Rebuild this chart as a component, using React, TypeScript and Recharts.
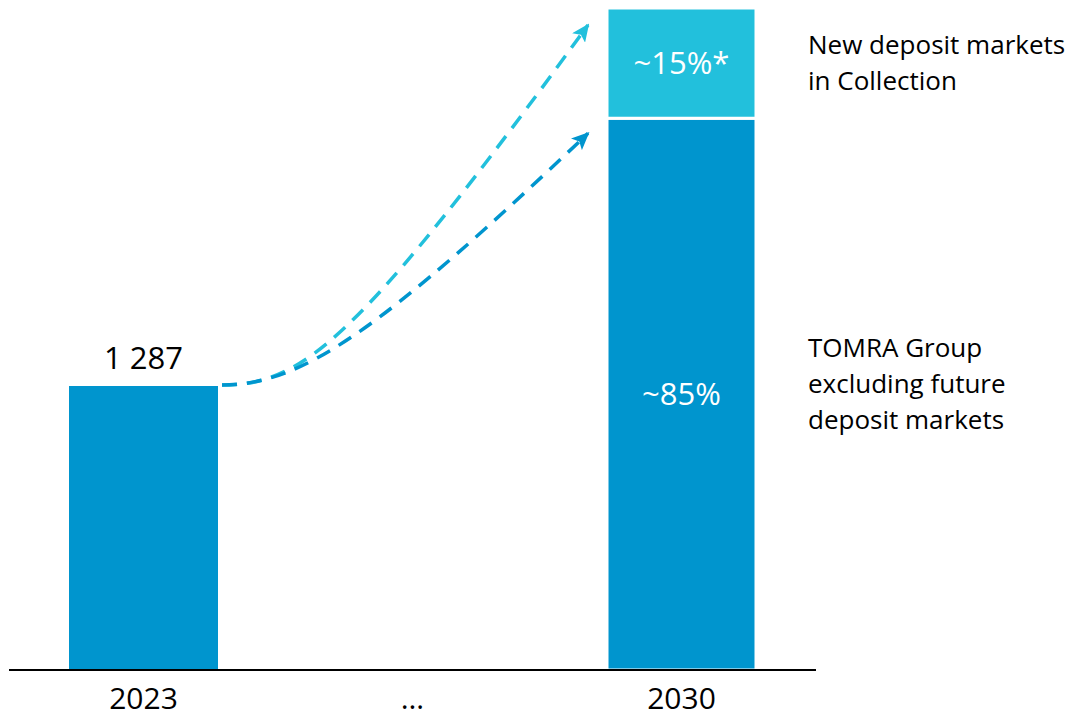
import { BarChart, Bar, XAxis, YAxis, LabelList, Cell, Customized } from "recharts";

// values
const categories = ["2023", "…", "2030"];
const baseValues = [1287, null, 2500]; // TOMRA Group excl. future deposit markets
const newMarketValues = [null, null, 500]; // new deposit markets in Collection
const topLabels = ["1 287", null, null];
const baseShareLabels = [null, null, "~85%"];
const newShareLabels = [null, null, "~15%*"];
const baseNotes = [null, null, "TOMRA Group|excluding future|deposit markets"];
const newNotes = [null, null, "New deposit markets|in Collection"];
const Y_MAX = 3000;

const data = categories.map((category, i) => ({
  category,
  base: baseValues[i],
  extra: newMarketValues[i],
  topLabel: topLabels[i],
  baseShare: baseShareLabels[i],
  newShare: newShareLabels[i],
  baseNote: baseNotes[i],
  newNote: newNotes[i],
}));

const BLUE = "#0095ce";
const CYAN = "#22c0dc";

const W = 1086;
const H = 717;
const MARGIN = { top: 8, right: 270, bottom: 0, left: 9 };
const AXIS_H = 47;
const BAR = 149;

// plot geometry, mirrors what recharts lays out from the settings above
const plotX0 = MARGIN.left;
const plotX1 = W - MARGIN.right;
const plotY0 = MARGIN.top;
const plotY1 = H - MARGIN.bottom - AXIS_H;
const band = (plotX1 - plotX0) / categories.length;
const barLeft = (i: number) => plotX0 + band * i + (band - BAR) / 2;
const yOf = (v: number) => plotY1 - (v / Y_MAX) * (plotY1 - plotY0);

const noteContent = (shift: number) => (props: any) => {
  const { value } = props;
  if (!value) return null;
  const vb = props.viewBox ?? props;
  const lines = String(value).split("|");
  const lh = 36;
  const cy = vb.y + vb.height / 2 + shift;
  const first = cy - ((lines.length - 1) * lh) / 2 + 9;
  return (
    <text x={vb.x + vb.width + 52} y={first} fontSize={26} fill="#000">
      {lines.map((l, k) => (
        <tspan key={k} x={vb.x + vb.width + 52} y={first + k * lh}>
          {l}
        </tspan>
      ))}
    </text>
  );
};

function Arrows() {
  const sx = barLeft(0) + BAR + 4;
  const sy = yOf(baseValues[0] as number) - 1;
  const ex = barLeft(2) - 19;
  const lightY = yOf(Y_MAX) + 17;
  const darkY = yOf(baseValues[2] as number) + 15;
  const light = `M${sx},${sy} C${sx + 80},${sy} ${sx + 135},${sy - 42} ${ex},${lightY}`;
  const dark = `M${sx},${sy} C${sx + 80},${sy} ${sx + 158},${sy - 54} ${ex},${darkY}`;
  return (
    <g>
      <defs>
        <marker id="headLight" markerUnits="userSpaceOnUse" markerWidth={18} markerHeight={16} refX={16} refY={8} orient="auto">
          <path d="M0,0 L18,8 L0,16 L4,8 z" fill={CYAN} />
        </marker>
        <marker id="headDark" markerUnits="userSpaceOnUse" markerWidth={18} markerHeight={16} refX={16} refY={8} orient="auto">
          <path d="M0,0 L18,8 L0,16 L4,8 z" fill={BLUE} />
        </marker>
      </defs>
      <path d={light} fill="none" stroke={CYAN} strokeWidth={3.5} strokeDasharray="15 10" markerEnd="url(#headLight)" />
      <path d={dark} fill="none" stroke={BLUE} strokeWidth={3.5} strokeDasharray="15 10" markerEnd="url(#headDark)" />
    </g>
  );
}

export default function App() {
  return (
    <div
      style={{
        position: "absolute",
        left: 0,
        top: 0,
        width: W,
        height: H,
        background: "#fff",
        fontFamily: "'Open Sans', sans-serif",
      }}
    >
      <BarChart width={W} height={H} data={data} margin={MARGIN} barSize={BAR}>
        <XAxis
          dataKey="category"
          height={AXIS_H}
          axisLine={{ stroke: "#000", strokeWidth: 2 }}
          tickLine={false}
          tickSize={0}
          tickMargin={18}
          tick={{ fill: "#000", fontSize: 30 }}
          interval={0}
        />
        <YAxis hide domain={[0, Y_MAX]} />
        <Bar dataKey="base" stackId="a" fill={BLUE} isAnimationActive={false}>
          {data.map((d, i) => (
            <Cell key={i} stroke={i === 2 ? "#fff" : "none"} strokeWidth={i === 2 ? 3 : 0} />
          ))}
          <LabelList dataKey="topLabel" position="top" offset={17} fill="#000" fontSize={31} />
          <LabelList dataKey="baseShare" position="center" fill="#fff" fontSize={31} />
          <LabelList dataKey="baseNote" content={noteContent(-10)} />
        </Bar>
        <Bar dataKey="extra" stackId="a" fill={CYAN} stroke="#fff" strokeWidth={3} isAnimationActive={false}>
          <LabelList dataKey="newShare" position="center" fill="#fff" fontSize={31} />
          <LabelList dataKey="newNote" content={noteContent(0)} />
        </Bar>
        <Customized component={<Arrows />} />
      </BarChart>
    </div>
  );
}
